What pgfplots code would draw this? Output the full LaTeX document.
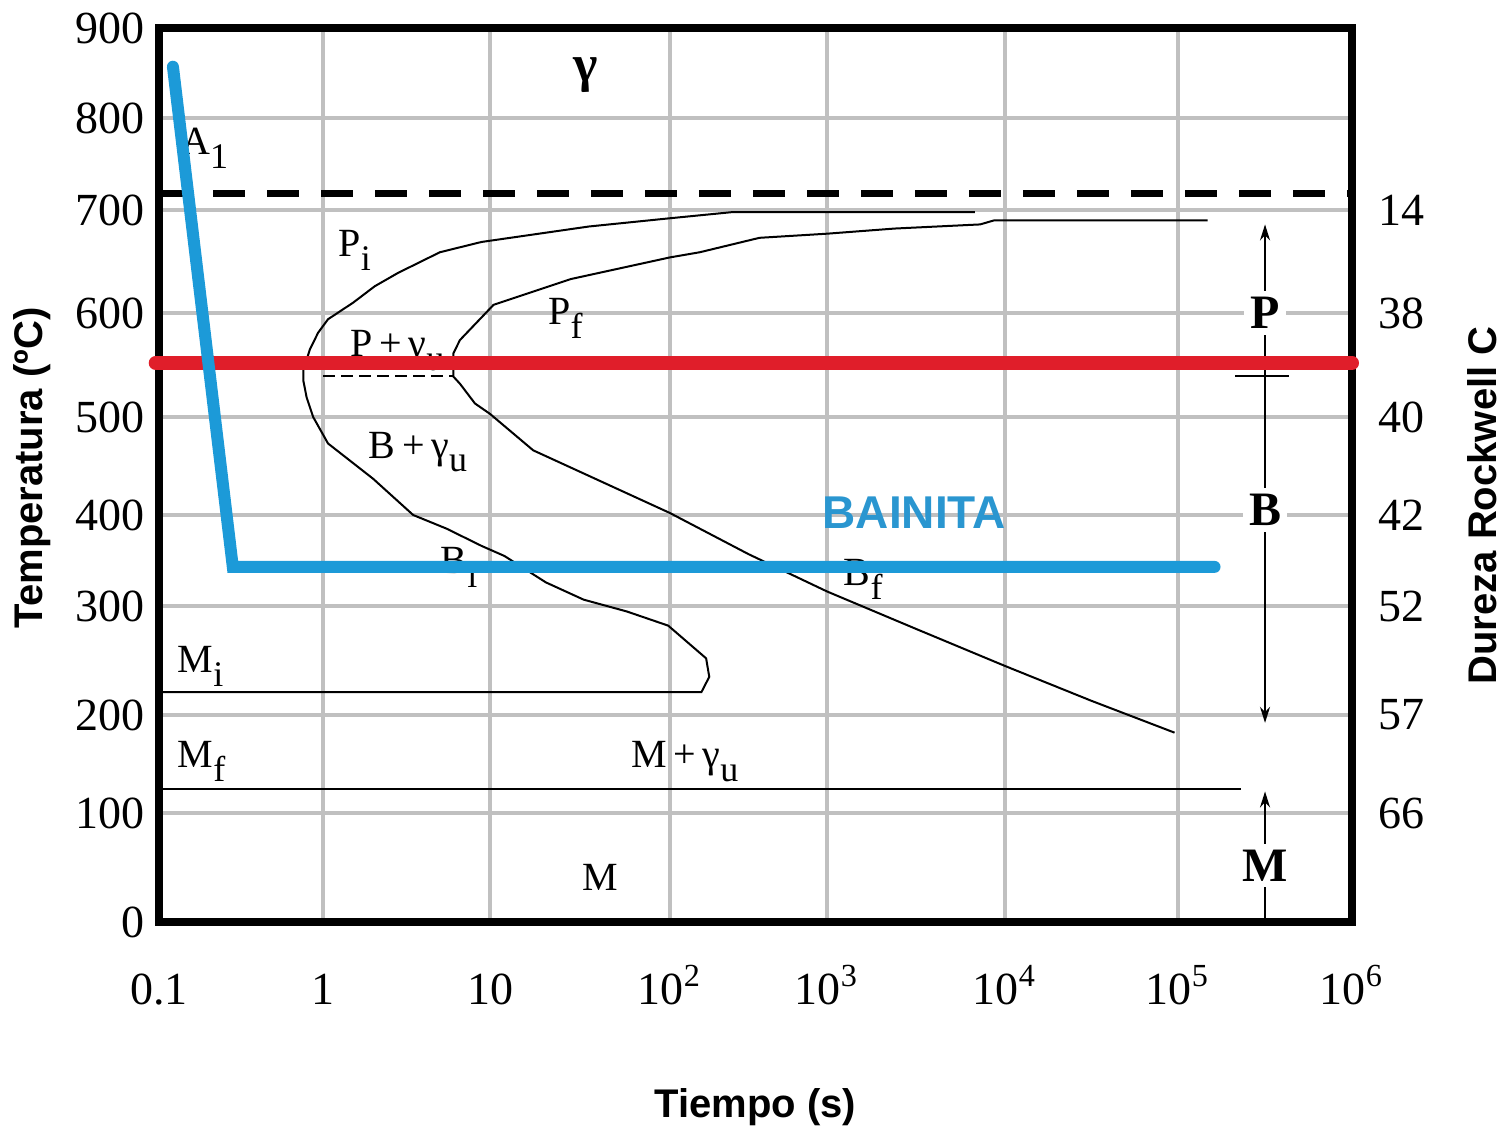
\documentclass[border=0pt]{standalone}
\usepackage{fontspec}
\setmainfont{Liberation Serif}
\newfontfamily\sansf{Liberation Sans}
\usepackage{pgfplots}
\pgfplotsset{compat=1.18}
\usetikzlibrary{arrows.meta}
\definecolor{redl}{RGB}{224,30,42}
\definecolor{bluel}{RGB}{28,154,216}
\definecolor{bluet}{RGB}{42,150,208}
\definecolor{gridc}{RGB}{192,192,192}
\newcommand{\sub}[1]{\raisebox{-0.75ex}{\fontsize{9}{10}\selectfont #1}}
\newcommand{\lbl}{\fontsize{11}{12}\selectfont}
\tikzset{lab/.style={anchor=base west, inner sep=0pt}}
% the hand-drawn grid of the original is not evenly spaced: piecewise-linear scales
\pgfplotsset{
  ttt scales/.style={
    x coord trafo/.code={\pgfmathparse{(##1<0) ? (164*(##1+1)) : ((##1<1) ? (164+167*##1) : ((##1<2) ? (331+180*(##1-1)) : ((##1<3) ? (511+157*(##1-2)) : ((##1<4) ? (668+178*(##1-3)) : ((##1<5) ? (846+173*(##1-4)) : (1019+174*(##1-5)))))))}},
    y coord trafo/.code={\pgfmathparse{(##1<100) ? (1.09*##1) : ((##1<200) ? (109+0.98*(##1-100)) : ((##1<300) ? (207+1.09*(##1-200)) : ((##1<400) ? (316+0.91*(##1-300)) : ((##1<500) ? (407+0.98*(##1-400)) : ((##1<600) ? (505+1.04*(##1-500)) : ((##1<700) ? (609+1.03*(##1-600)) : ((##1<800) ? (712+0.92*(##1-700)) : (804+0.90*(##1-800)))))))))}},
  }
}
\begin{document}
\begin{tikzpicture}
\begin{axis}[name=ax, ttt scales,
  scale only axis, width=298.25pt, height=223.5pt,
  xmin=-1, xmax=6, ymin=0, ymax=900,
  xtick={-1,0,1,2,3,4,5,6},
  xticklabels={0.1,1,10,10\textsuperscript{2},10\textsuperscript{3},10\textsuperscript{4},10\textsuperscript{5},10\textsuperscript{6}},
  ytick={0,100,200,300,400,500,600,700,800,900},
  yticklabels={0,100,200,300,400,500,600,700,800,900},
  grid=major, major grid style={gridc, line width=1pt},
  axis line style={line width=2.2pt},
  major tick length=0pt,
  clip=false,
  ticklabel style={font=\fontsize{11.5}{12}\selectfont},
  xticklabel style={anchor=base, yshift=-20.5pt},
  xlabel={Tiempo (s)},
  ylabel={Temperatura (ºC)},
  xlabel style={font=\sansf\bfseries\fontsize{10}{12}\selectfont, at={(axis description cs:0.5,-0.170)}, anchor=north},
  ylabel style={font=\sansf\bfseries\fontsize{10}{12}\selectfont, at={(axis description cs:-0.0788,0.508)}, anchor=south},
  every node/.style={font=\lbl}
]
% A1 dashed
\addplot[black, line width=1.6pt, dash pattern=on 8pt off 5.5pt] coordinates {(-1,718) (6,718)};
% Pearlite start + bainite start + Mi
\addplot[black, line width=0.5pt] coordinates {
(3.83,698) (3.0,698) (2.4,698) (2.2,695) (2.0,692) (1.55,684) (0.95,669) (0.7,659)
(0.45,639) (0.31,626) (0.18,610) (0.03,594) (-0.03,581) (-0.08,565) (-0.12,545)
(-0.12,535) (-0.1,519) (-0.06,500) (0.03,473) (0.3,437) (0.54,400) (0.74,385)
(0.95,366) (1.08,355) (1.31,326) (1.52,307) (1.76,295) (1.99,282) (2.23,252)
(2.25,235) (2.2,221) (-1,221)};
% Pearlite finish + bainite finish
\addplot[black, line width=0.5pt] coordinates {
(5.17,690) (3.94,690) (3.86,686) (3.38,682) (3.0,677) (2.57,673) (2.19,659)
(2.0,654) (1.45,633) (1.02,608) (0.82,574) (0.78,561) (0.78,539) (0.82,532)
(0.91,513) (1.0,503) (1.24,466) (2.0,402) (2.5,357) (3.0,316) (3.5,279)
(4.0,245) (4.5,213) (4.98,182)};
% short dashed at nose
\addplot[black, line width=0.5pt, dash pattern=on 3pt off 1.5pt] coordinates {(0,539) (0.78,539)};
% Mf line
\addplot[black, line width=0.5pt] coordinates {(-1,125) (5.36,125)};
% right side arrows
\addplot[black, line width=0.5pt, -{Stealth[length=4pt,width=2.5pt]}] coordinates {(5.5,539) (5.5,686)};
\addplot[black, line width=0.5pt, -{Stealth[length=4pt,width=2.5pt]}] coordinates {(5.5,539) (5.5,192)};
\addplot[black, line width=0.5pt, -{Stealth[length=4pt,width=2.5pt]}] coordinates {(5.5,0) (5.5,122)};
\addplot[black, line width=0.5pt] coordinates {(5.33,539) (5.64,539)};
% labels
\node[lab] at (axis cs:-0.87,760) {A\sub{1}};
\node at (axis cs:1.53,848) {\fontsize{13}{14}\selectfont\bfseries γ};
\node at (axis cs:0.19,661) {P\sub{i}};
\node at (axis cs:1.42,595) {P\sub{f}};
\node[lab] at (axis cs:0.16,558) {P\,+\,γ\sub{u}};
\node[lab] at (axis cs:0.27,458) {B\,+\,γ\sub{u}};
\node[lab] at (axis cs:0.70,336) {B\sub{i}};
\node[lab] at (axis cs:3.09,322) {B\sub{f}};
\node[lab] at (axis cs:-0.89,239) {M\sub{i}};
\node[lab] at (axis cs:-0.89,146) {M\sub{f}};
\node[lab] at (axis cs:1.78,146) {M\,+\,γ\sub{u}};
\node[anchor=base] at (axis cs:1.61,29) {M};
\node[fill=white, inner sep=1.5pt] at (axis cs:5.5,600) {\fontsize{12}{13}\selectfont\bfseries P};
\node[fill=white, inner sep=1.5pt] at (axis cs:5.5,405) {\fontsize{12}{13}\selectfont\bfseries B};
\node[fill=white, inner sep=1.5pt] at (axis cs:5.5,52) {\fontsize{12}{13}\selectfont\bfseries M};
% red isotherm
\addplot[redl, line width=3.5pt, line cap=round] coordinates {(-1.02,552) (6,552)};
% blue path
\addplot[bluel, line width=3pt, line cap=round, line join=miter] coordinates {(-0.915,857) (-0.55,343) (5.21,343)};
\node[text=bluet] at (axis cs:3.49,402) {\sansf\bfseries\fontsize{11.5}{12}\selectfont BAINITA};
\end{axis}
\begin{axis}[ttt scales,
  scale only axis, width=298.25pt, height=223.5pt,
  xmin=-1, xmax=6, ymin=0, ymax=900,
  axis x line=none, axis y line*=right,
  y axis line style={draw=none},
  ytick={100,200,300,400,500,600,700},
  yticklabels={66,57,52,42,40,38,14},
  major tick length=0pt,
  ticklabel style={font=\fontsize{11.5}{12}\selectfont},
  yticklabel style={xshift=3pt},
  ylabel={Dureza Rockwell C},
  ylabel style={font=\sansf\bfseries\fontsize{10}{12}\selectfont, at={(axis description cs:1.0847,0.466)}, anchor=north},
]
\addplot[draw=none] coordinates {(0,0)};
\end{axis}
\pgfresetboundingbox
\path (ax.south west) ++(-39.75pt,-51pt) rectangle ++(376.25pt,281.5pt);
\end{tikzpicture}
\end{document}
